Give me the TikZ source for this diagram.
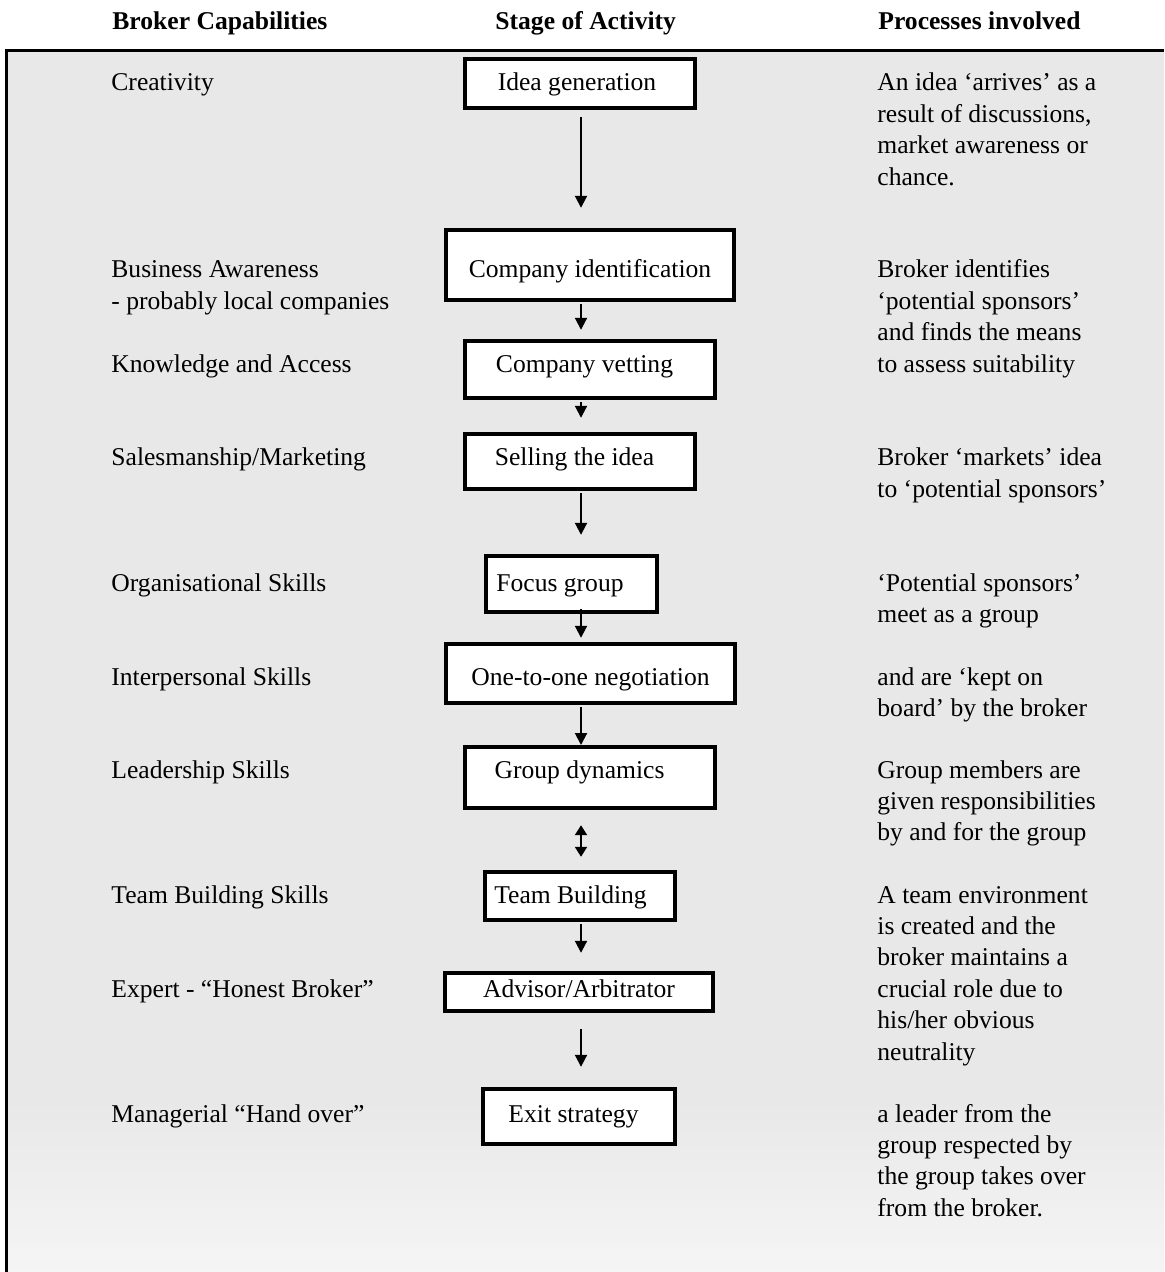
\documentclass[tikz,border=0pt]{standalone}
\usepackage{fontspec}
\setmainfont{Liberation Serif}
\usetikzlibrary{arrows.meta}

% text set on its first line's baseline, lines 15.7pt apart
\newcommand\rows[1]{\begin{tabular}[t]{@{}l@{}}#1\end{tabular}}

\begin{document}
\begin{tikzpicture}[x=0.5pt,y=-0.5pt,
  txt/.style={inner sep=0pt,anchor=base west,font=\fontsize{12.8pt}{15.7pt}\selectfont},
  head/.style={inner sep=0pt,anchor=base west,font=\fontsize{12.8pt}{15.7pt}\selectfont\bfseries},
  stagetxt/.style={inner sep=0pt,anchor=base,font=\fontsize{12.8pt}{15.7pt}\selectfont},
  stagebox/.style={draw,line width=2.2pt,fill=white,inner sep=0pt},
  flow/.style={line width=1pt,-{Triangle[length=6pt,width=6pt]}},
  bothways/.style={line width=1pt,{Triangle[length=5pt,width=6pt]}-{Triangle[length=5pt,width=6pt]}}]

\useasboundingbox (0,0) rectangle (1164,1272);

% shaded panel and its frame
\fill[black!9] (7,51) rectangle (1164,1100);
\shade[top color=black!9,bottom color=black!4] (7,1100) rectangle (1164,1272);
\draw[line width=1.5pt] (6.5,1272) -- (6.5,51) -- (1164,51);

% column headings
\node[head] (h1) at (112,30) {Broker Capabilities};
\node[head] (h2) at (495,30) {Stage of Activity};
\node[head] (h3) at (878,30) {Processes involved};

% stage boxes
\node[stagebox,minimum width=114.8pt,minimum height=24.3pt] (b1) at (580,83.5) {};
\node[stagebox,minimum width=143.8pt,minimum height=34.8pt] (b2) at (590,265) {};
\node[stagebox,minimum width=124.8pt,minimum height=28.3pt] (b3) at (590,369.5) {};
\node[stagebox,minimum width=114.8pt,minimum height=27.3pt] (b4) at (580,461.5) {};
\node[stagebox,minimum width=85.3pt,minimum height=27.8pt] (b5) at (571.5,584) {};
\node[stagebox,minimum width=144.3pt,minimum height=29.3pt] (b6) at (590.5,673.5) {};
\node[stagebox,minimum width=124.8pt,minimum height=30.3pt] (b7) at (590,777.5) {};
\node[stagebox,minimum width=94.8pt,minimum height=23.8pt] (b8) at (580,896) {};
\node[stagebox,minimum width=133.8pt,minimum height=18.8pt] (b9) at (579,992) {};
\node[stagebox,minimum width=95.8pt,minimum height=27.3pt] (b10) at (579,1116.5) {};

% stage labels
\node[stagetxt] (s1) at (577,91) {Idea generation};
\node[stagetxt] (s2) at (590,278) {Company identification};
\node[stagetxt] (s3) at (584.5,372) {Company vetting};
\node[stagetxt] (s4) at (574.5,466) {Selling the idea};
\node[stagetxt] (s5) at (560,591) {Focus group};
\node[stagetxt] (s6) at (590.5,685) {One-to-one negotiation};
\node[stagetxt] (s7) at (579.5,778) {Group dynamics};
\node[stagetxt] (s8) at (570.5,903) {Team Building};
\node[stagetxt] (s9) at (579,997) {Advisor/Arbitrator};
\node[stagetxt] (s10) at (573.5,1122) {Exit strategy};

% flow between the stages
\coordinate (axis) at (581,0);
\draw[flow,shorten <=3.6pt,shorten >=10.1pt] (b1.south -| axis) -- (b2.north -| axis);
\draw[flow,shorten <=1.1pt,shorten >=4.6pt] (b2.south -| axis) -- (b3.north -| axis);
\draw[flow,shorten <=1.1pt,shorten >=7.1pt] (b3.south -| axis) -- (b4.north -| axis);
\draw[flow,shorten <=1.1pt,shorten >=9.6pt] (b4.south -| axis) -- (b5.north -| axis);
\draw[flow,shorten <=-2.4pt,shorten >=2.1pt] (b5.south -| axis) -- (b6.north -| axis);
\draw[flow,shorten <=1.1pt,shorten >=0pt] (b6.south -| axis) -- (b7.north -| axis);
\draw[bothways,shorten <=7.6pt,shorten >=6.6pt] (b7.south -| axis) -- (b8.north -| axis);
\draw[flow,shorten <=1.1pt,shorten >=9.1pt] (b8.south -| axis) -- (b9.north -| axis);
\draw[flow,shorten <=8.1pt,shorten >=10.1pt] (b9.south -| axis) -- (b10.north -| axis);

% broker capabilities
\node[txt] (c1) at (111,91) {Creativity};
\node[txt] (c2) at (111,278) {\rows{Business Awareness\\- probably local companies}};
\node[txt] (c3) at (111,372) {Knowledge and Access};
\node[txt] (c4) at (111,466) {Salesmanship/Marketing};
\node[txt] (c5) at (111,591) {Organisational Skills};
\node[txt] (c6) at (111,685) {Interpersonal Skills};
\node[txt] (c7) at (111,778) {Leadership Skills};
\node[txt] (c8) at (111,903) {Team Building Skills};
\node[txt] (c9) at (111,997) {Expert - “Honest Broker”};
\node[txt] (c10) at (111,1122) {Managerial “Hand over”};

% processes involved
\node[txt] (p1) at (877,91) {\rows{An idea ‘arrives’ as a\\result of discussions,\\market awareness or\\chance.}};
\node[txt] (p2) at (877,278) {\rows{Broker identifies\\‘potential sponsors’\\and finds the means\\to assess suitability}};
\node[txt] (p3) at (877,466) {\rows{Broker ‘markets’ idea\\to ‘potential sponsors’}};
\node[txt] (p4) at (877,591) {\rows{‘Potential sponsors’\\meet as a group}};
\node[txt] (p5) at (877,685) {\rows{and are ‘kept on\\board’ by the broker}};
\node[txt] (p6) at (877,778) {\rows{Group members are\\given responsibilities\\by and for the group}};
\node[txt] (p7) at (877,903) {\rows{A team environment\\is created and the\\broker maintains a\\crucial role due to\\his/her obvious\\neutrality}};
\node[txt] (p8) at (877,1122) {\rows{a leader from the\\group respected by\\the group takes over\\from the broker.}};

\end{tikzpicture}
\end{document}
